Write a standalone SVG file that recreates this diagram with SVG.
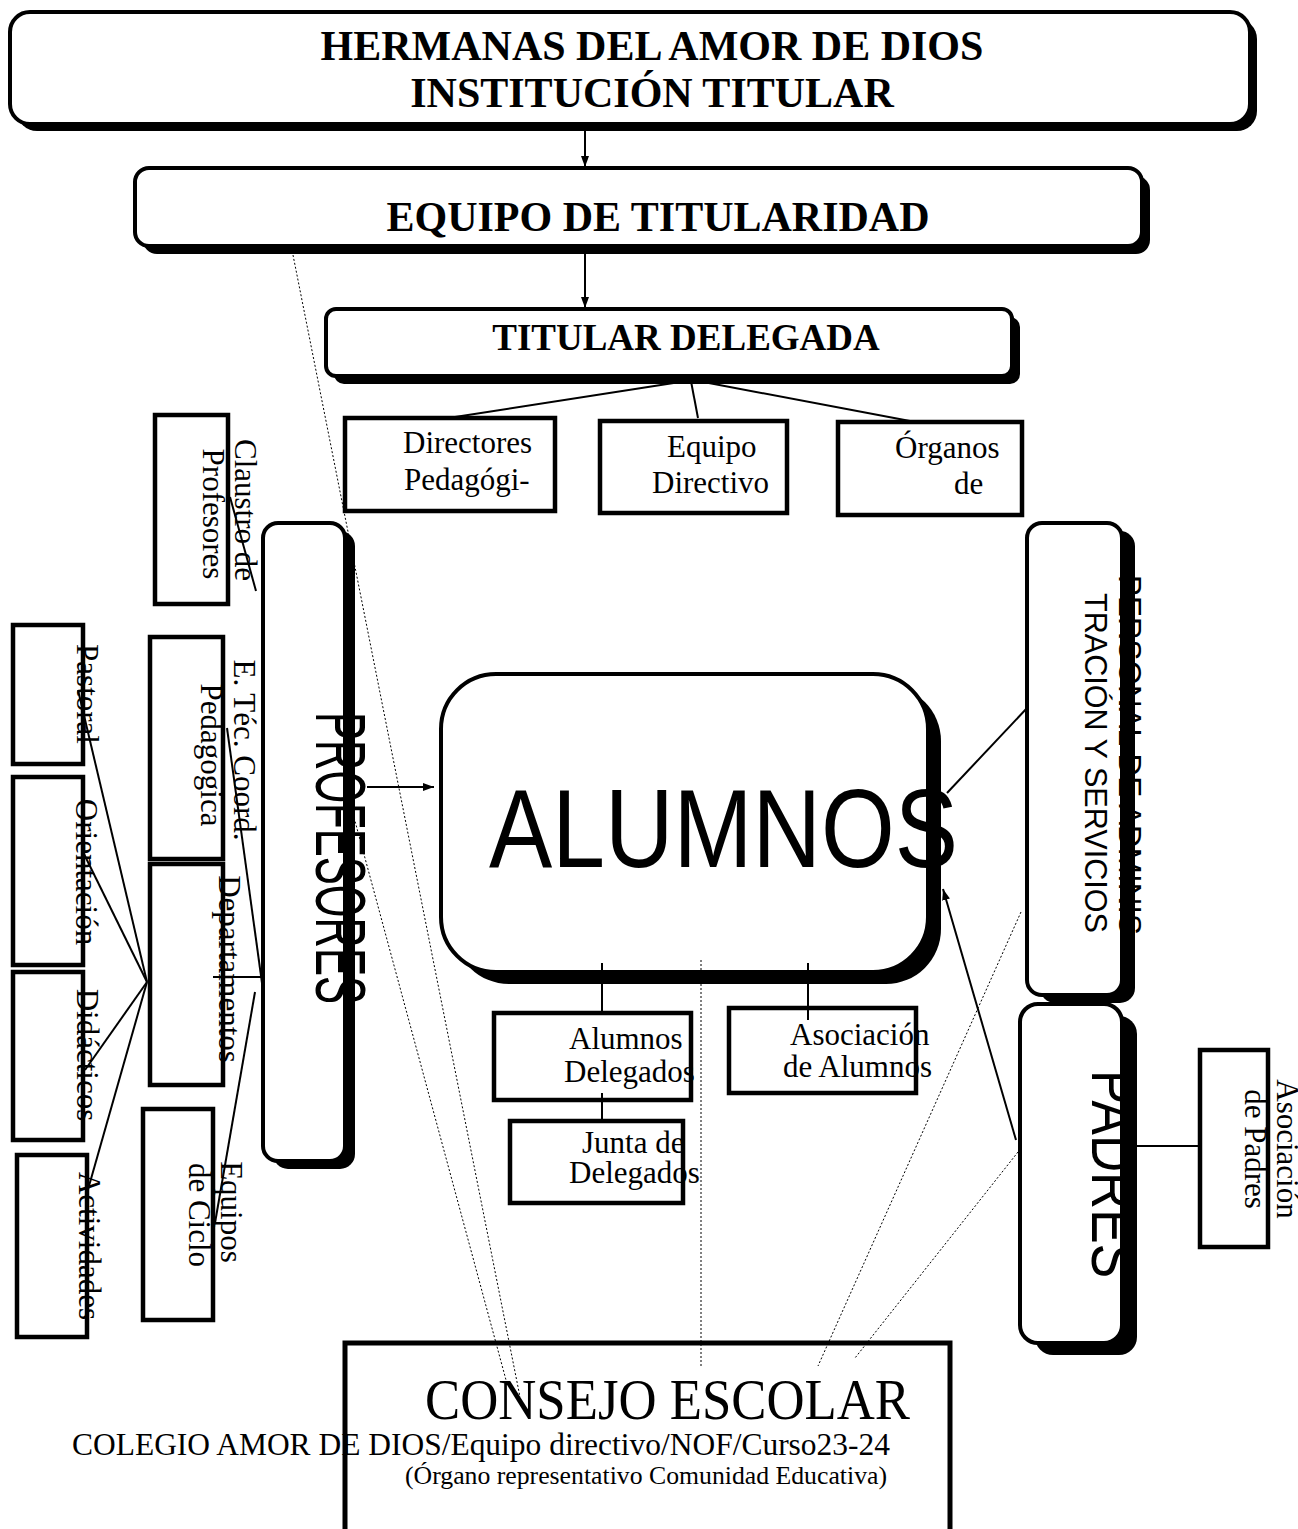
<svg xmlns="http://www.w3.org/2000/svg" width="1298" height="1529" viewBox="0 0 1298 1529">
<defs>
<marker id="ah" markerWidth="11" markerHeight="8" refX="11" refY="4" orient="auto" markerUnits="userSpaceOnUse">
<path d="M0,0 L11,4 L0,8 z" fill="#000"/>
</marker>
<style>
.box{fill:#fff;stroke:#000;stroke-width:4.5}
.rbox{fill:#fff;stroke:#000;stroke-width:4}
.sh{fill:#000}
.tb{font-family:"Liberation Serif","Times New Roman",serif;font-weight:bold;font-size:42px;fill:#000;text-anchor:middle}
.t{font-family:"Liberation Serif","Times New Roman",serif;font-size:31px;fill:#000}
.a{font-family:"Liberation Sans",Arial,sans-serif;fill:#000}
.m{text-anchor:middle}
.c{stroke:#000;stroke-width:2;fill:none}
.d{stroke:#000;stroke-width:1;stroke-dasharray:2 2;fill:none}
</style>
</defs>
<rect width="1298" height="1529" fill="#fff"/>

<g id="hermanas">
<rect class="sh" x="17" y="19" width="1240" height="112" rx="20"/>
<rect class="rbox" x="10" y="12" width="1240" height="112" rx="20"/>
<text class="tb" x="652" y="60">HERMANAS DEL AMOR DE DIOS</text>
<text class="tb" x="652" y="107">INSTITUCIÓN TITULAR</text>
</g>

<g id="equipo-titularidad">
<rect class="sh" x="143" y="176" width="1007" height="78" rx="14"/>
<rect class="rbox" x="135" y="168" width="1007" height="78" rx="14"/>
<text class="tb" x="658" y="231">EQUIPO DE TITULARIDAD</text>
</g>

<g id="titular-delegada">
<rect class="sh" x="334" y="317" width="686" height="67" rx="10"/>
<rect class="rbox" x="326" y="309" width="686" height="67" rx="10"/>
<text class="tb" x="686" y="350" style="font-size:37px">TITULAR DELEGADA</text>
</g>

<g id="directores">
<rect class="box" x="345" y="418" width="210" height="93"/>
<text class="t" x="403" y="453">Directores</text>
<text class="t" x="404" y="490">Pedagógi-</text>
</g>

<g id="equipo-directivo">
<rect class="box" x="600" y="421" width="187" height="92"/>
<text class="t" x="667" y="457">Equipo</text>
<text class="t" x="652" y="493">Directivo</text>
</g>

<g id="organos">
<rect class="box" x="838" y="422" width="184" height="93"/>
<text class="t" x="895" y="458">Órganos</text>
<text class="t" x="954" y="494">de</text>
</g>

<g id="claustro">
<rect class="box" x="155" y="415" width="73" height="189"/>
<text class="t m" transform="translate(235,510) rotate(90)">Claustro de</text>
<text class="t m" transform="translate(203,514) rotate(90)">Profesores</text>
</g>

<g id="pastoral">
<rect class="box" x="13" y="625" width="70" height="139"/>
<text class="t m" transform="translate(77,694) rotate(90)">Pastoral</text>
</g>

<g id="orientacion">
<rect class="box" x="13" y="777" width="70" height="188"/>
<text class="t m" transform="translate(76,872) rotate(90)">Orientación</text>
</g>

<g id="didacticos">
<rect class="box" x="13" y="972" width="70" height="168"/>
<text class="t m" transform="translate(77,1055) rotate(90)">Didácticos</text>
</g>

<g id="actividades">
<rect class="box" x="17" y="1155" width="70" height="182"/>
<text class="t m" transform="translate(79,1246) rotate(90)">Actividades</text>
</g>

<g id="etec">
<rect class="box" x="150" y="637" width="73" height="222"/>
<text class="t m" transform="translate(234,750) rotate(90)">E. Téc. Coord.</text>
<text class="t m" transform="translate(201,755) rotate(90)">Pedagogica</text>
</g>

<g id="departamentos">
<rect class="box" x="150" y="864" width="73" height="221"/>
<text class="t m" transform="translate(219,969) rotate(90)">Departamentos</text>
</g>

<g id="equipos-ciclo">
<rect class="box" x="143" y="1109" width="70" height="211"/>
<text class="t m" transform="translate(221,1212) rotate(90)">Equipos</text>
<text class="t m" transform="translate(189,1215) rotate(90)">de Ciclo</text>
</g>

<g id="profesores">
<rect class="sh" x="273" y="531" width="82" height="638" rx="15"/>
<rect class="rbox" x="263" y="523" width="82" height="638" rx="15"/>
<text class="a" transform="translate(316,712) rotate(90)" style="font-size:70px" textLength="292" lengthAdjust="spacingAndGlyphs">PROFESORES</text>
</g>

<g id="alumnos">
<rect class="sh" x="454" y="686" width="487" height="298" rx="55"/>
<rect class="rbox" x="441" y="674" width="487" height="298" rx="55"/>
<text class="a" x="489" y="867" style="font-size:112px" textLength="469" lengthAdjust="spacingAndGlyphs">ALUMNOS</text>
</g>

<g id="personal">
<rect class="sh" x="1040" y="531" width="95" height="472" rx="15"/>
<rect class="rbox" x="1027" y="523" width="95" height="472" rx="15"/>
<text class="a" transform="translate(1119,575) rotate(90)" style="font-size:31px" textLength="360" lengthAdjust="spacingAndGlyphs">PERSONAL DE ADMINIS</text>
<text class="a" transform="translate(1085,593) rotate(90)" style="font-size:31px" textLength="340" lengthAdjust="spacingAndGlyphs">TRACIÓN Y SERVICIOS</text>
</g>

<g id="padres">
<rect class="sh" x="1035" y="1016" width="102" height="339" rx="18"/>
<rect class="rbox" x="1020" y="1004" width="102" height="339" rx="18"/>
<text class="a" transform="translate(1092,1070) rotate(90)" style="font-size:63px" textLength="208" lengthAdjust="spacingAndGlyphs">PADRES</text>
</g>

<g id="asociacion-padres">
<rect class="box" x="1200" y="1050" width="68" height="197"/>
<text class="t m" transform="translate(1277,1149) rotate(90)">Asociación</text>
<text class="t m" transform="translate(1245,1149) rotate(90)">de Padres</text>
</g>

<g id="alumnos-delegados">
<rect class="box" x="494" y="1013" width="197" height="87"/>
<text class="t" x="569" y="1049">Alumnos</text>
<text class="t" x="564" y="1082">Delegados</text>
</g>

<g id="junta-delegados">
<rect class="box" x="510" y="1121" width="173" height="82"/>
<text class="t" x="582" y="1153">Junta de</text>
<text class="t" x="569" y="1183">Delegados</text>
</g>

<g id="asociacion-alumnos">
<rect class="box" x="729" y="1008" width="187" height="85"/>
<text class="t" x="790" y="1045">Asociación</text>
<text class="t" x="783" y="1077">de Alumnos</text>
</g>

<g id="consejo">
<rect fill="#fff" stroke="#000" stroke-width="5" x="345" y="1343" width="605" height="210"/>
<text class="t" x="425" y="1419" style="font-size:57px" textLength="485" lengthAdjust="spacingAndGlyphs">CONSEJO ESCOLAR</text>
<text class="t" x="405" y="1484" style="font-size:25px" textLength="482" lengthAdjust="spacingAndGlyphs">(Órgano representativo  Comunidad Educativa)</text>
</g>

<g id="footer">
<text class="t" x="72" y="1455" textLength="818" lengthAdjust="spacingAndGlyphs">COLEGIO AMOR DE DIOS/Equipo directivo/NOF/Curso23-24</text>
</g>

<g id="connectors">
<line class="c" x1="585" y1="124" x2="585" y2="167" marker-end="url(#ah)"/>
<line class="c" x1="585" y1="246" x2="585" y2="308" marker-end="url(#ah)"/>
<line class="c" x1="693" y1="380" x2="455" y2="417"/>
<line class="c" x1="690" y1="376" x2="698" y2="418"/>
<line class="c" x1="693" y1="380" x2="910" y2="421"/>
<line class="c" x1="230" y1="497" x2="256" y2="591"/>
<line class="c" x1="227" y1="728" x2="262" y2="983"/>
<line class="c" x1="213" y1="977" x2="262" y2="977"/>
<line class="c" x1="255" y1="992" x2="215" y2="1223"/>
<line class="c" x1="78" y1="690" x2="147" y2="982"/>
<line class="c" x1="83" y1="852" x2="147" y2="982"/>
<line class="c" x1="85" y1="1070" x2="147" y2="982"/>
<line class="c" x1="87" y1="1193" x2="147" y2="982"/>
<line class="c" x1="367" y1="787" x2="434" y2="787" marker-end="url(#ah)"/>
<line class="c" x1="602" y1="963" x2="602" y2="1012"/>
<line class="c" x1="808" y1="963" x2="808" y2="1020"/>
<line class="c" x1="602" y1="1093" x2="602" y2="1121"/>
<line class="c" x1="1028" y1="707" x2="947" y2="793"/>
<line class="c" x1="1016" y1="1140" x2="943" y2="889" marker-end="url(#ah)"/>
<line class="c" x1="1137" y1="1146" x2="1199" y2="1146"/>
<line class="d" x1="293" y1="255" x2="520" y2="1397"/>
<line class="d" x1="352" y1="810" x2="506" y2="1380"/>
<line class="d" x1="701" y1="960" x2="701" y2="1368"/>
<line class="d" x1="1021" y1="912" x2="818" y2="1366"/>
<line class="d" x1="1018" y1="1152" x2="855" y2="1358"/>
</g>
</svg>
